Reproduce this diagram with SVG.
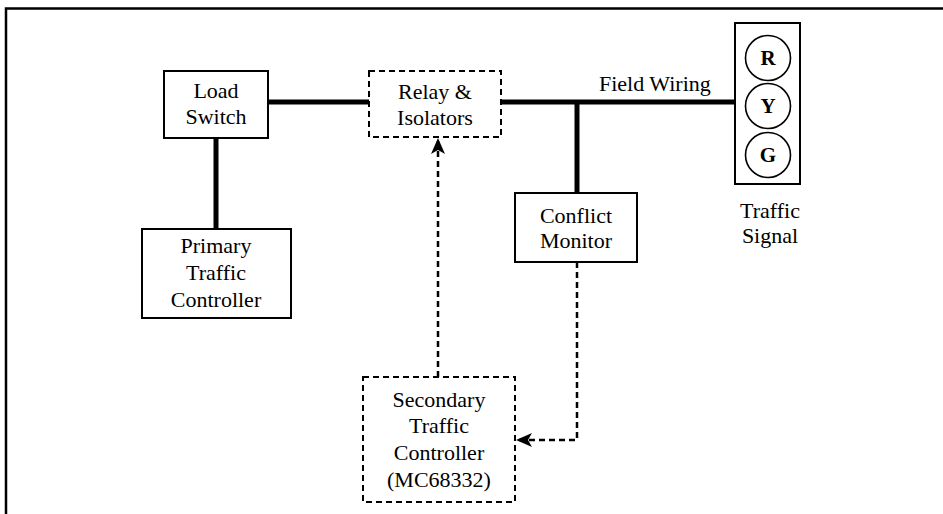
<svg xmlns="http://www.w3.org/2000/svg" width="943" height="514" viewBox="0 0 943 514">
  <style>
    text { font-family: "Liberation Serif", "Times New Roman", serif; font-size: 22px; fill: #000; text-anchor: middle; }
    .box { fill: #fff; stroke: #000; stroke-width: 2; }
    .dbox { fill: #fff; stroke: #000; stroke-width: 2; stroke-dasharray: 6 4; }
    .thick { stroke: #000; stroke-width: 5; fill: none; }
    .dash { stroke: #000; stroke-width: 2.5; fill: none; stroke-dasharray: 6 4; }
    .lamp { fill: #fff; stroke: #000; stroke-width: 1.6; }
    .lbl { font-weight: bold; font-size: 21px; }
  </style>
  <defs>
    <marker id="arr" viewBox="0 0 16 14" refX="15" refY="7" markerWidth="16" markerHeight="14" markerUnits="userSpaceOnUse" orient="auto">
      <path d="M0,0 L16,7 L0,14 L4,7 z" fill="#000"/>
    </marker>
  </defs>
  <rect width="943" height="514" fill="#fff"/>
  <g id="frame">
    <path d="M6,514 L6,8.5 L943,8.5" fill="none" stroke="#000" stroke-width="2.5"/>
  </g>
  <g id="connectors">
    <line class="thick" x1="268" y1="102" x2="369" y2="102"/>
    <line class="thick" x1="216" y1="138" x2="216" y2="229"/>
    <line class="thick" x1="501" y1="102" x2="735" y2="102"/>
    <line class="thick" x1="577" y1="102" x2="577" y2="193"/>
    <line class="dash" x1="438" y1="377" x2="438" y2="139" marker-end="url(#arr)"/>
    <polyline class="dash" points="577,262 577,440 517,440" marker-end="url(#arr)"/>
  </g>
  <g id="load-switch">
    <rect class="box" x="164" y="71" width="104" height="67"/>
    <text x="216" y="98">Load</text>
    <text x="216" y="124">Switch</text>
  </g>
  <g id="relay-isolators">
    <rect class="dbox" x="369" y="71" width="132" height="66"/>
    <text x="435" y="99">Relay &amp;</text>
    <text x="435" y="125">Isolators</text>
  </g>
  <g id="field-wiring-label">
    <text x="599" y="91" style="text-anchor:start">Field Wiring</text>
  </g>
  <g id="traffic-signal">
    <rect class="box" x="735" y="23" width="65" height="161"/>
    <circle class="lamp" cx="768" cy="58" r="22.5"/>
    <circle class="lamp" cx="768" cy="106" r="22.5"/>
    <circle class="lamp" cx="768" cy="155" r="22.5"/>
    <text class="lbl" x="768" y="65">R</text>
    <text class="lbl" x="768" y="113">Y</text>
    <text class="lbl" x="768" y="162">G</text>
    <text x="770" y="218">Traffic</text>
    <text x="770" y="243">Signal</text>
  </g>
  <g id="conflict-monitor">
    <rect class="box" x="515" y="193" width="122" height="69"/>
    <text x="576" y="223">Conflict</text>
    <text x="576" y="248">Monitor</text>
  </g>
  <g id="primary-controller">
    <rect class="box" x="142" y="229" width="149" height="89"/>
    <text x="216" y="253">Primary</text>
    <text x="216" y="280">Traffic</text>
    <text x="216" y="307">Controller</text>
  </g>
  <g id="secondary-controller">
    <rect class="dbox" x="363" y="377" width="152" height="125"/>
    <text x="439" y="407">Secondary</text>
    <text x="439" y="433">Traffic</text>
    <text x="439" y="460">Controller</text>
    <text x="439" y="487">(MC68332)</text>
  </g>
</svg>
